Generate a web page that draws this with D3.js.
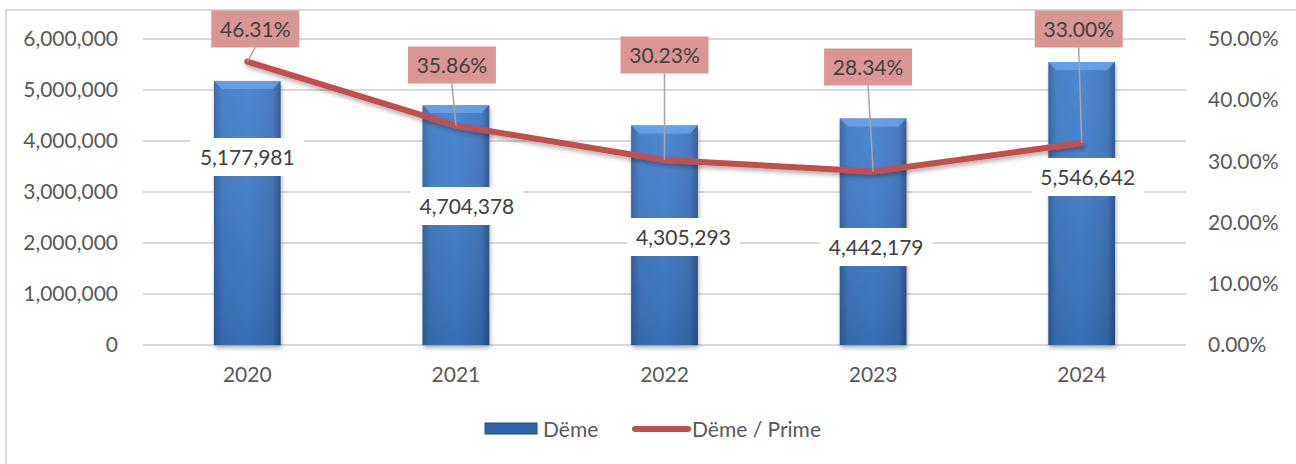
<!DOCTYPE html>
<html>
<head>
<meta charset="utf-8">
<script src="https://cdn.jsdelivr.net/npm/d3@7"></script>
<style>
  body { margin: 0; background: #fff; }
  svg { display: block; font-family: Lato, "Open Sans", sans-serif; }
</style>
</head>
<body>
<svg width="1296" height="464"></svg>
<script>
// chart data
var years = ["2020", "2021", "2022", "2023", "2024"];
var payments = [5177981, 4704378, 4305293, 4442179, 5546642];
var ratio = [0.4631, 0.3586, 0.3023, 0.2834, 0.3300];
var leftTicks = [0, 1000000, 2000000, 3000000, 4000000, 5000000, 6000000];
var rightTicks = [0, 0.1, 0.2, 0.3, 0.4, 0.5];

// label placement (pixels, layout only)
var pctBoxY = [29, 65, 55, 67, 29];
var pctBoxDx = [8, -4, 0, -5, -3];
var valBoxY = [157, 206, 237, 247, 177];
var valBoxDx = [0, 11, 19, 3, 6];

draw();

function draw() {
    var svg = d3.select("svg");
    var textColor = "#595959";

    var plotLeft = 143, plotRight = 1186, plotTop = 39, plotBottom = 345;

    var defs = svg.append("defs");
    var grad = defs.append("linearGradient").attr("id", "barGrad")
        .attr("x1", "0").attr("x2", "1").attr("y1", "0").attr("y2", "0");
    grad.append("stop").attr("offset", "0").attr("stop-color", "#2c5d9e");
    grad.append("stop").attr("offset", "0.12").attr("stop-color", "#3d78c4");
    grad.append("stop").attr("offset", "0.5").attr("stop-color", "#3f7ecf");
    grad.append("stop").attr("offset", "0.88").attr("stop-color", "#3a72bb");
    grad.append("stop").attr("offset", "1").attr("stop-color", "#264f88");
    var vgrad = defs.append("linearGradient").attr("id", "barShade")
        .attr("x1", "0").attr("x2", "0").attr("y1", "0").attr("y2", "1");
    vgrad.append("stop").attr("offset", "0").attr("stop-color", "#ffffff").attr("stop-opacity", 0.08);
    vgrad.append("stop").attr("offset", "1").attr("stop-color", "#000000").attr("stop-opacity", 0.12);
    var shadow = defs.append("filter").attr("id", "shadow")
        .attr("x", "-10%").attr("y", "-50%").attr("width", "120%").attr("height", "200%");
    shadow.append("feDropShadow").attr("dx", 1).attr("dy", 3).attr("stdDeviation", 2)
        .attr("flood-color", "#000").attr("flood-opacity", 0.3);

    // chart border
    svg.append("rect")
        .attr("x", 6).attr("y", 10).attr("width", 1310).attr("height", 480)
        .attr("fill", "none").attr("stroke", "#d9d9d9").attr("stroke-width", 2);

    var x = d3.scaleBand().domain(years).range([plotLeft, plotRight]).padding(0);
    var y = d3.scaleLinear().domain([0, 6000000]).range([plotBottom, plotTop]);
    var y2 = d3.scaleLinear().domain([0, 0.5]).range([plotBottom, plotTop]);

    // grid
    svg.append("g").selectAll("line")
        .data(leftTicks)
        .enter().append("line")
        .attr("x1", plotLeft).attr("x2", plotRight)
        .attr("y1", function(d) { return y(d); })
        .attr("y2", function(d) { return y(d); })
        .attr("stroke", "#d9d9d9").attr("stroke-width", 2);

    // left axis
    var yAxis = svg.append("g")
        .attr("transform", "translate(" + (plotLeft - 25) + ",0)")
        .call(d3.axisLeft(y).tickValues(leftTicks).tickFormat(d3.format(",")).tickSize(0).tickPadding(0));
    yAxis.select(".domain").remove();
    yAxis.selectAll("text").attr("fill", textColor).style("font-size", "21px").style("font-family", "Lato");

    // right axis
    var y2Axis = svg.append("g")
        .attr("transform", "translate(" + (plotRight + 22) + ",0)")
        .call(d3.axisRight(y2).tickValues(rightTicks).tickFormat(d3.format(".2%")).tickSize(0).tickPadding(0));
    y2Axis.select(".domain").remove();
    y2Axis.selectAll("text").attr("fill", textColor).style("font-size", "21px").style("font-family", "Lato");

    // x axis
    var xAxis = svg.append("g")
        .attr("transform", "translate(0," + (plotBottom + 22) + ")")
        .call(d3.axisBottom(x).tickSize(0).tickPadding(0));
    xAxis.select(".domain").remove();
    xAxis.selectAll("text").attr("fill", textColor).style("font-size", "21px").style("font-family", "Lato");

    // bars
    var bw = x.bandwidth() * 0.32;
    var bx = function(d) { return x(d) + x.bandwidth() / 2 - bw / 2; };
    var bars = svg.append("g").selectAll("g")
        .data(years)
        .enter().append("g")
        .attr("filter", "url(#shadow)");
    bars.append("rect")
        .attr("x", bx)
        .attr("y", function(d, i) { return y(payments[i]); })
        .attr("width", bw)
        .attr("height", function(d, i) { return plotBottom - y(payments[i]); })
        .attr("fill", "url(#barGrad)");
    bars.append("rect")
        .attr("x", bx)
        .attr("y", function(d, i) { return y(payments[i]); })
        .attr("width", bw)
        .attr("height", function(d, i) { return plotBottom - y(payments[i]); })
        .attr("fill", "url(#barShade)");
    // top bevel
    bars.append("path")
        .attr("d", function(d, i) {
            var x0 = bx(d), x1 = x0 + bw, t = y(payments[i]);
            return "M" + x0 + "," + t + "L" + x1 + "," + t + "L" + (x1 - 8) + "," + (t + 8) +
                "L" + (x0 + 8) + "," + (t + 8) + "Z";
        })
        .attr("fill", "#6aa3e8").attr("opacity", 0.85);

    // line
    var cx = function(i) { return x(years[i]) + x.bandwidth() / 2; };
    var line = d3.line()
        .x(function(d, i) { return cx(i); })
        .y(function(d) { return y2(d); });
    svg.append("path")
        .datum(ratio)
        .attr("d", line)
        .attr("fill", "none")
        .attr("stroke", "#c0504d")
        .attr("stroke-width", 6)
        .attr("stroke-linejoin", "round")
        .attr("stroke-linecap", "round")
        .attr("filter", "url(#shadow)");

    // value labels
    var vw = 113, vh = 38;
    var vl = svg.append("g").selectAll("g")
        .data(payments)
        .enter().append("g")
        .attr("transform", function(d, i) { return "translate(" + (cx(i) + valBoxDx[i]) + "," + valBoxY[i] + ")"; });
    vl.append("rect")
        .attr("x", -vw / 2).attr("y", -vh / 2).attr("width", vw).attr("height", vh)
        .attr("fill", "#ffffff");
    vl.append("text")
        .attr("text-anchor", "middle").attr("dy", "0.36em")
        .attr("fill", "#404040").style("font-size", "21px")
        .text(function(d) { return d3.format(",")(d); });

    // percentage labels with leader lines
    var pw = 88, ph = 37;
    svg.append("g").selectAll("line")
        .data(ratio)
        .enter().append("line")
        .attr("x1", function(d, i) { return cx(i) + pctBoxDx[i]; })
        .attr("y1", function(d, i) { return pctBoxY[i] + ph / 2; })
        .attr("x2", function(d, i) { return cx(i); })
        .attr("y2", function(d) { return y2(d); })
        .attr("stroke", "#a6a6a6").attr("stroke-width", 1.5);
    var pl = svg.append("g").selectAll("g")
        .data(ratio)
        .enter().append("g")
        .attr("transform", function(d, i) { return "translate(" + (cx(i) + pctBoxDx[i]) + "," + pctBoxY[i] + ")"; });
    pl.append("rect")
        .attr("x", -pw / 2).attr("y", -ph / 2).attr("width", pw).attr("height", ph)
        .attr("fill", "#d99694");
    pl.append("text")
        .attr("text-anchor", "middle").attr("dy", "0.36em")
        .attr("fill", "#404040").style("font-size", "21px")
        .text(function(d) { return d3.format(".2%")(d); });

    // legend
    var lg = svg.append("g");
    lg.append("rect").attr("x", 485).attr("y", 423).attr("width", 52).attr("height", 11)
        .attr("fill", "#2e64a8").attr("stroke", "#1f4a80").attr("stroke-width", 1);
    lg.append("text").attr("x", 543).attr("y", 429).attr("dy", "0.36em")
        .attr("fill", textColor).style("font-size", "21px").text("Dëme");
    lg.append("line").attr("x1", 635).attr("x2", 688).attr("y1", 429).attr("y2", 429)
        .attr("stroke", "#c0504d").attr("stroke-width", 6).attr("stroke-linecap", "round");
    lg.append("text").attr("x", 692).attr("y", 429).attr("dy", "0.36em")
        .attr("fill", textColor).style("font-size", "21px").text("Dëme / Prime");
}
</script>
</body>
</html>
